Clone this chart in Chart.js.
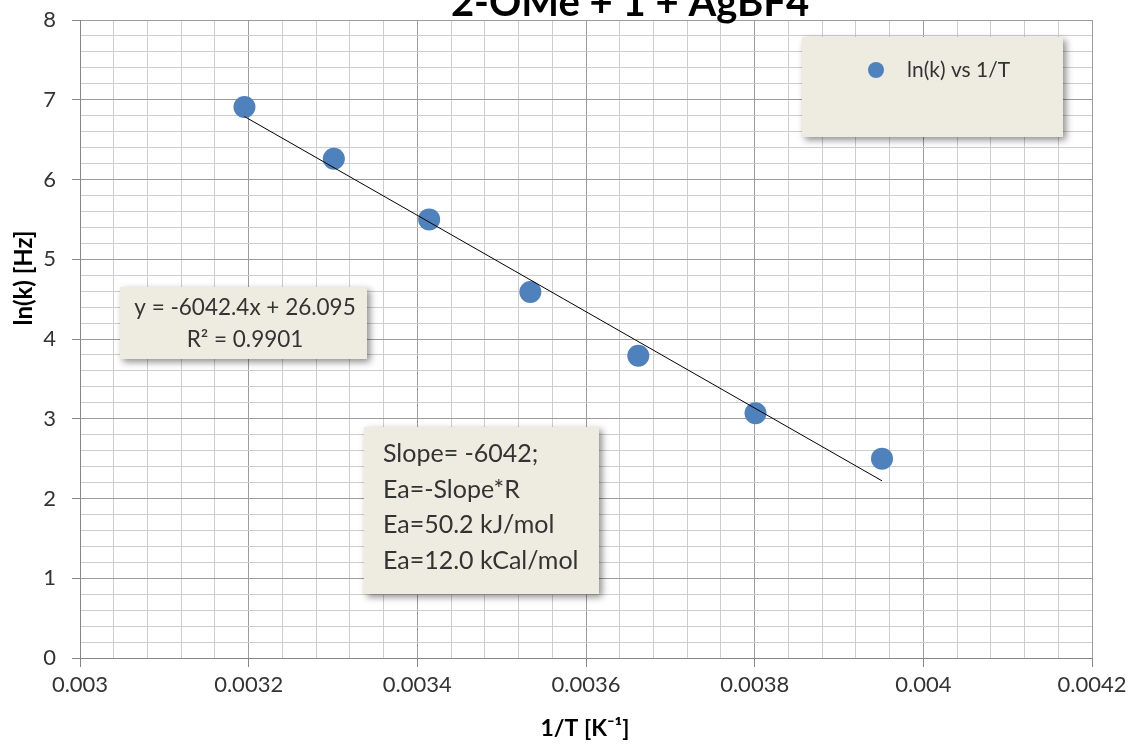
<!DOCTYPE html>
<html><head><meta charset="utf-8">
<script src="https://cdn.jsdelivr.net/npm/chart.js@4.4.0/dist/chart.umd.min.js"></script>
<style>html,body{margin:0;padding:0;background:#fff;}#wrap{position:relative;width:1132px;height:744px;overflow:hidden;}</style>
</head><body><div id="wrap"><canvas id="c" width="1132" height="744"></canvas></div>
<script>
const chartTitle = '2-OMe + 1 + AgBF4';
const seriesName = 'ln(k) vs 1/T';
const invT = [0.003195, 0.003301, 0.003414, 0.003534, 0.003662, 0.003801, 0.003951];
const lnK = [6.91, 6.26, 5.50, 4.59, 3.79, 3.07, 2.50];
const trendSlope = -6042.4;
const trendIntercept = 26.095;
const equationLines = ['y = -6042.4x + 26.095', 'R² = 0.9901'];
const noteLines = ['Slope= -6042;', 'Ea=-Slope*R', 'Ea=50.2 kJ/mol', 'Ea=12.0 kCal/mol'];
const xTickLabels = ['0.003', '0.0032', '0.0034', '0.0036', '0.0038', '0.004', '0.0042'];
const yTickLabels = ['0', '1', '2', '3', '4', '5', '6', '7', '8'];
const xAxisTitle = '1/T [K⁻¹]';
const yAxisTitle = 'ln(k) [Hz]';

const X_MIN = 0.003, X_MAX = 0.0042, X_MAJOR = 0.0002, X_MINOR = 0.00004;
const Y_MIN = 0, Y_MAX = 8, Y_MAJOR = 1, Y_MINOR = 0.2;

const trendX = [Math.min(...invT), Math.max(...invT)];
const trendData = trendX.map(x => ({x: x, y: trendSlope * x + trendIntercept}));
const scatterData = invT.map((x, i) => ({x: x, y: lnK[i]}));

function isMajor(v, step) { const r = v / step; return Math.abs(r - Math.round(r)) < 1e-6; }

const FONT = 'Lato, "Open Sans", sans-serif';
const MAJOR_GRID = '#9c9c9c', MINOR_GRID = '#cdcdcd', AXIS = '#868686', TXT = '#333333';
const BOX_FILL = '#EEECE1';

function drawBox(ctx, x, y, w, h) {
  ctx.save();
  ctx.shadowColor = 'rgba(0,0,0,0.45)';
  ctx.shadowBlur = 7;
  ctx.shadowOffsetX = 3;
  ctx.shadowOffsetY = 3;
  ctx.fillStyle = BOX_FILL;
  ctx.fillRect(x, y, w, h);
  ctx.restore();
}

const overlay = {
  id: 'overlay',
  afterDraw(chart) {
    const ctx = chart.ctx;
    ctx.save();
    // title (partially cut at the top)
    ctx.fillStyle = '#000';
    ctx.font = 'bold 40px ' + FONT;
    ctx.textAlign = 'center';
    ctx.textBaseline = 'alphabetic';
    ctx.fillText(chartTitle, 630, 16);

    // axis titles
    ctx.textBaseline = 'middle';
    ctx.font = 'bold 23px ' + FONT;
    ctx.fillText(xAxisTitle, 585, 729);
    ctx.save();
    ctx.translate(24, 278);
    ctx.rotate(-Math.PI / 2);
    ctx.font = 'bold 24px ' + FONT;
    ctx.fillText(yAxisTitle, 0, 0);
    ctx.restore();

    // legend box
    drawBox(ctx, 802, 37, 261, 100);
    ctx.fillStyle = '#4F81BD';
    ctx.beginPath(); ctx.arc(876, 70, 8, 0, Math.PI * 2); ctx.fill();
    ctx.fillStyle = TXT;
    ctx.font = '21px ' + FONT;
    ctx.textAlign = 'left';
    ctx.fillText(seriesName, 907, 70);

    // equation box
    drawBox(ctx, 120, 287, 247, 72);
    ctx.textAlign = 'center';
    ctx.font = '22.5px ' + FONT;
    ctx.fillText(equationLines[0], 245, 308);
    ctx.fillText(equationLines[1], 245, 340);

    // note box
    drawBox(ctx, 364, 427, 235, 167);
    ctx.textAlign = 'left';
    ctx.font = '25px ' + FONT;
    noteLines.forEach((t, i) => ctx.fillText(t, 383, 454 + i * 35.7));
    ctx.restore();
  }
};

new Chart(document.getElementById('c'), {
  type: 'scatter',
  data: {
    datasets: [
      { type: 'line', label: 'trend', data: trendData, borderColor: '#000', borderWidth: 1,
        pointRadius: 0, fill: false, order: 0 },
      { label: seriesName, data: scatterData, backgroundColor: '#4F81BD', borderColor: '#4F81BD',
        borderWidth: 0, pointRadius: 11, pointHoverRadius: 11, order: 1 }
    ]
  },
  options: {
    responsive: false,
    animation: false,
    layout: { padding: { top: 20, right: 40, left: 0, bottom: 0 } },
    plugins: { legend: { display: false }, title: { display: false }, tooltip: { enabled: false } },
    scales: {
      x: {
        type: 'linear', min: X_MIN, max: X_MAX,
        afterFit(s) { s.height = 86; s.paddingLeft = 0; s.paddingRight = 0; },
        border: { color: AXIS, width: 1 },
        grid: {
          color: c => isMajor(c.tick.value, X_MAJOR) ? MAJOR_GRID : MINOR_GRID,
          tickColor: c => isMajor(c.tick.value, X_MAJOR) ? AXIS : 'rgba(0,0,0,0)',
          tickLength: 9, lineWidth: 1
        },
        ticks: {
          stepSize: X_MINOR, maxTicksLimit: 200, autoSkip: false, maxRotation: 0, minRotation: 0,
          padding: 5, color: TXT, font: { family: FONT, size: 22 },
          callback: v => isMajor(v, X_MAJOR) ? xTickLabels[Math.round((v - X_MIN) / X_MAJOR)] : ''
        }
      },
      y: {
        type: 'linear', min: Y_MIN, max: Y_MAX,
        afterFit(s) { s.width = 80; s.paddingTop = 0; s.paddingBottom = 0; },
        border: { color: AXIS, width: 1 },
        grid: {
          color: c => isMajor(c.tick.value, Y_MAJOR) ? MAJOR_GRID : MINOR_GRID,
          tickColor: c => isMajor(c.tick.value, Y_MAJOR) ? AXIS : 'rgba(0,0,0,0)',
          tickLength: 8, lineWidth: 1
        },
        ticks: {
          stepSize: Y_MINOR, maxTicksLimit: 200, autoSkip: false,
          padding: 16, color: TXT, font: { family: FONT, size: 22 },
          callback: v => isMajor(v, Y_MAJOR) ? yTickLabels[Math.round((v - Y_MIN) / Y_MAJOR)] : ''
        }
      }
    }
  },
  plugins: [overlay]
});
</script></body></html>
